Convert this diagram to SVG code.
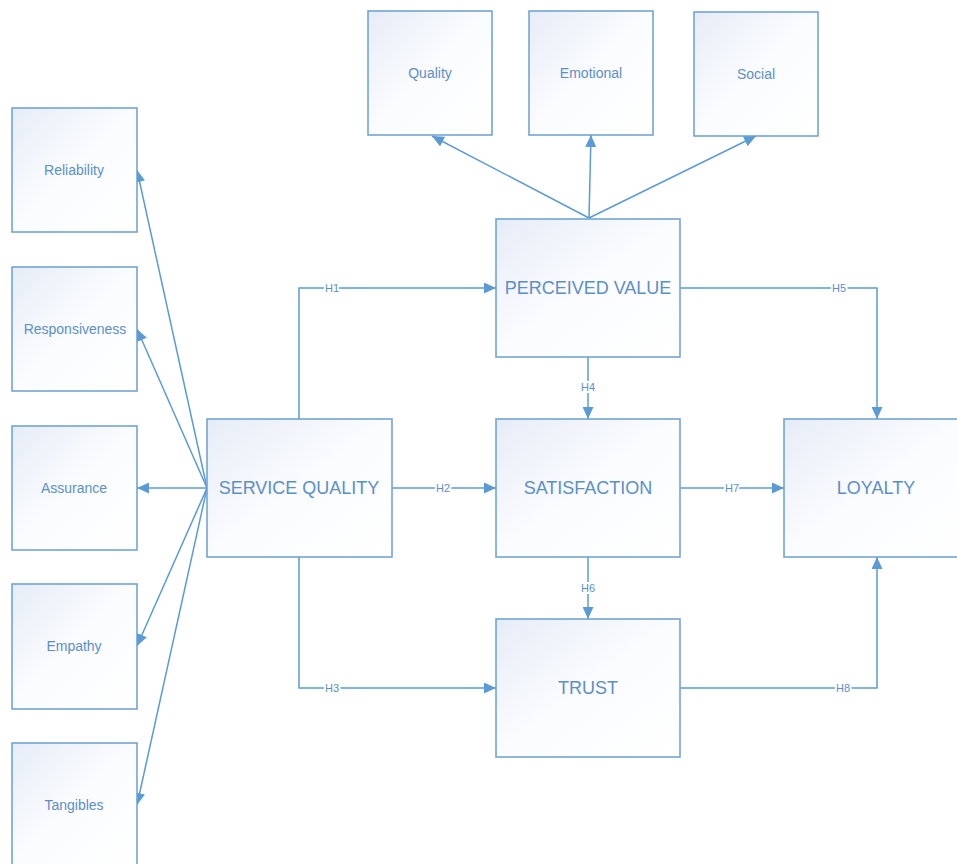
<svg xmlns="http://www.w3.org/2000/svg" width="957" height="864" viewBox="0 0 957 864">
<defs>
<linearGradient id="g" x1="0" y1="0" x2="1" y2="1">
<stop offset="0" stop-color="#e6ecf7"/>
<stop offset="0.5" stop-color="#fbfcfe"/>
<stop offset="1" stop-color="#ffffff"/>
</linearGradient>
<marker id="a" markerUnits="userSpaceOnUse" markerWidth="13" markerHeight="11" refX="12" refY="5.5" orient="auto">
<path d="M0,0 L12,5.5 L0,11 Z" fill="#5b9bd5"/>
</marker>
</defs>
<style>
.box{fill:url(#g);stroke:#6a9fd3;stroke-width:1.5}
.t{font-family:"Liberation Sans",Arial,sans-serif;fill:#5b8fc7;text-anchor:middle;dominant-baseline:central}
.s{font-size:14px}
.b{font-size:18px}
.c{fill:none;stroke:#5b9bd5;stroke-width:1.5;marker-end:url(#a)}
.h{font-family:"Liberation Sans",Arial,sans-serif;font-size:11px;fill:#5b8fc7;text-anchor:middle;dominant-baseline:central;stroke:#fff;stroke-width:4;paint-order:stroke}
</style>
<rect width="957" height="864" fill="#fff"/>
<g id="connectors">
<path class="c" d="M299,419 V288 H496"/>
<path class="c" d="M392,488 H496"/>
<path class="c" d="M299,557 V688 H496"/>
<path class="c" d="M588,357 V419"/>
<path class="c" d="M680,288 H877 V419"/>
<path class="c" d="M588,557 V619"/>
<path class="c" d="M680,488 H784"/>
<path class="c" d="M680,688 H877 V557"/>
<path class="c" d="M589,218 L432,136"/>
<path class="c" d="M589,218 L591,135"/>
<path class="c" d="M589,218 L756,136"/>
<path class="c" d="M207,488 L137,170"/>
<path class="c" d="M207,488 L137,329"/>
<path class="c" d="M207,488 L137,488"/>
<path class="c" d="M207,488 L137,646"/>
<path class="c" d="M207,488 L137,805"/>
<text class="h" x="332" y="288">H1</text>
<text class="h" x="443" y="488">H2</text>
<text class="h" x="332" y="688">H3</text>
<text class="h" x="588" y="387">H4</text>
<text class="h" x="839" y="288">H5</text>
<text class="h" x="588" y="588">H6</text>
<text class="h" x="732" y="488">H7</text>
<text class="h" x="843" y="688">H8</text>
</g>
<g id="quality"><rect class="box" x="368" y="11" width="124" height="124"/><text class="t s" x="430" y="73">Quality</text></g>
<g id="emotional"><rect class="box" x="529" y="11" width="124" height="124"/><text class="t s" x="591" y="73">Emotional</text></g>
<g id="social"><rect class="box" x="694" y="12" width="124" height="124"/><text class="t s" x="756" y="74">Social</text></g>
<g id="reliability"><rect class="box" x="12" y="108" width="125" height="124"/><text class="t s" x="74" y="170">Reliability</text></g>
<g id="responsiveness"><rect class="box" x="12" y="267" width="125" height="124"/><text class="t s" x="75" y="329">Responsiveness</text></g>
<g id="assurance"><rect class="box" x="12" y="426" width="125" height="124"/><text class="t s" x="74" y="488">Assurance</text></g>
<g id="empathy"><rect class="box" x="12" y="584" width="125" height="125"/><text class="t s" x="74" y="646">Empathy</text></g>
<g id="tangibles"><rect class="box" x="12" y="743" width="125" height="124"/><text class="t s" x="74" y="805">Tangibles</text></g>
<g id="service-quality"><rect class="box" x="207" y="419" width="185" height="138"/><text class="t b" x="299" y="488">SERVICE QUALITY</text></g>
<g id="perceived-value"><rect class="box" x="496" y="219" width="184" height="138"/><text class="t b" x="588" y="288">PERCEIVED VALUE</text></g>
<g id="satisfaction"><rect class="box" x="496" y="419" width="184" height="138"/><text class="t b" x="588" y="488">SATISFACTION</text></g>
<g id="trust"><rect class="box" x="496" y="619" width="184" height="138"/><text class="t b" x="588" y="688">TRUST</text></g>
<g id="loyalty"><rect class="box" x="784" y="419" width="184" height="138"/><text class="t b" x="876" y="488">LOYALTY</text></g>
</svg>
